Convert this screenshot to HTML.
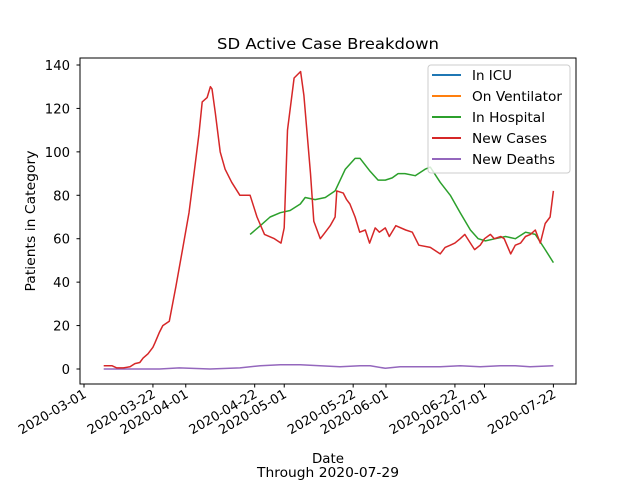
<!DOCTYPE html>
<html><head><meta charset="utf-8"><style>
body{margin:0;background:#fff}
svg{font-family:"DejaVu Sans","Liberation Sans",sans-serif}
</style></head><body>
<svg id="chart" width="640" height="480" xmlns="http://www.w3.org/2000/svg">
<rect width="640" height="480" fill="#fff"/>
<text x="328" y="49" font-size="15.5" text-anchor="middle" textLength="222" lengthAdjust="spacingAndGlyphs">SD Active Case Breakdown</text>
<text transform="translate(35,221) rotate(-90)" font-size="13" text-anchor="middle" textLength="141" lengthAdjust="spacingAndGlyphs">Patients in Category</text>
<text x="328" y="463" font-size="13" text-anchor="middle" textLength="32" lengthAdjust="spacingAndGlyphs">Date</text>
<text x="328" y="477" font-size="13" text-anchor="middle" textLength="142" lengthAdjust="spacingAndGlyphs">Through 2020-07-29</text>
<g id="plot"></g>
<rect x="80" y="58" width="496" height="326" fill="none" stroke="#000" stroke-width="1"/>
<g>
<rect x="428" y="65" width="142" height="108" rx="3" fill="#fff" fill-opacity="0.8" stroke="#ccc"/>
<g id="legend-items"></g>
</g>
</svg>
<script>
const xTickLabels=["2020-03-01","2020-03-22","2020-04-01","2020-04-22","2020-05-01","2020-05-22","2020-06-01","2020-06-22","2020-07-01","2020-07-22"];
const xTickDays=[0,21,31,52,61,82,92,113,122,143];
const yTicks=[0,20,40,60,80,100,120,140];
const caseDays=[6,8.5,10,12,14,15.5,17,18,19.5,21,21.6,23,24,26,27,28,30,32,33.5,35,36,37.5,38.5,39,40,41.5,43,45,47.5,50.6,52.7,55,58,60,61,62,64,66,67,69,70,72,73,75,76.5,77,79,80,81,82.6,84,85.7,87,88.7,90,91.8,93,95,98,100,102,105.5,108.5,110,111.6,113,114.6,116,117.7,119,120.7,122,123.8,125,127,128,130,131.4,133,134.5,136,137.5,139,140.5,142,143];
const caseVals=[1.5,1.5,0.5,0.5,1,2.5,3,5,7,10,12,17,20,22,30,38,55,72,90,108,123,125,130,129,118,100,92,86,80,80,70,62,60,58,65,110,134,137,126,90,68,60,62,66,70,82,81,78,76,70,63,64,58,65,63,65,61,66,64,63,57,56,53,56,57,58,60,62,58,55,57,60,62,60,61,60,53,57,58,61,62,64,58,67,70,82];
const hospDays=[50.6,53.7,56.7,59.8,62.8,65.9,67.4,70.4,73.5,76.5,79.6,82.6,84.1,87.2,89.6,91.8,93.9,95.7,97.8,100.9,103.9,105.5,108.5,111.6,114.6,117.7,120.1,122.3,125.3,128.4,131.4,134.5,137.5,140.5,143];
const hospVals=[62,66,70,72,73,76,79,78,79,82,92,97,97,91,87,87,88,90,90,89,92,93,86,80,72,64,60,59,60,61,60,63,62,55,49];
const deathDays=[6,23,29,38.4,47.5,53.7,59.8,65.9,71.9,78,84.1,87.2,91.8,96.3,102.4,108.5,114.6,120.7,126.8,131.4,135.9,143];
const deathVals=[0,0,0.5,0,0.5,1.5,2,2,1.5,1,1.5,1.5,0.3,1,1,1,1.5,1,1.5,1.5,1,1.5];
const X0=84,PXD=3.2825,Y0=369,PXU=304/140;
const xs=d=>X0+d*PXD, ys=v=>Y0-v*PXU;
const NS="http://www.w3.org/2000/svg";
const svg=document.getElementById('chart'),plot=document.getElementById('plot');
function mk(t,a,p){const e=document.createElementNS(NS,t);for(const k in a)e.setAttribute(k,a[k]);(p||svg).appendChild(e);return e;}
xTickDays.forEach((d,i)=>{const x=xs(d);
const t=mk('line',{x1:x,x2:x,y1:384,y2:387.5,stroke:'#000'});


const l=mk('text',{transform:`translate(${x-1},${389}) rotate(-30)`,'font-size':13,'text-anchor':'end','dominant-baseline':'hanging',textLength:76,lengthAdjust:'spacingAndGlyphs'});
l.textContent=xTickLabels[i];


});
yTicks.forEach(v=>{const y=ys(v);
const t=mk('line',{x1:76.5,x2:80,y1:y,y2:y,stroke:'#000'});


const s=String(v);
const l=mk('text',{x:70,y:y+5,'font-size':13,'text-anchor':'end',textLength:s.length*8.4,lengthAdjust:'spacingAndGlyphs'});
l.textContent=s;


});
function line(days,vals,color,name){const pts=days.map((d,i)=>xs(d).toFixed(1)+','+ys(vals[i]).toFixed(1)).join(' ');
const p=mk('polyline',{points:pts,fill:'none',stroke:color,'stroke-width':1.5,'stroke-linejoin':'round'},plot);

}
line(deathDays,deathVals,'#9467bd','new-deaths-line');
line(hospDays,hospVals,'#2ca02c','in-hospital-line');
line(caseDays,caseVals,'#d62728','new-cases-line');
const legNames=["In ICU","On Ventilator","In Hospital","New Cases","New Deaths"];
const legColors=["#1f77b4","#ff7f0e","#2ca02c","#d62728","#9467bd"];
const legWidths=[40,90,73,75,83];
const lg=document.getElementById('legend-items');
legNames.forEach((n,i)=>{const y=75+i*21;
const g=mk('g',{},lg);


mk('line',{x1:432,x2:461,y1:y,y2:y,stroke:legColors[i],'stroke-width':2},g);
const t=mk('text',{x:472,y:y+5,'font-size':13,textLength:legWidths[i],lengthAdjust:'spacingAndGlyphs'},g);t.textContent=n;});
</script>
</body></html>
